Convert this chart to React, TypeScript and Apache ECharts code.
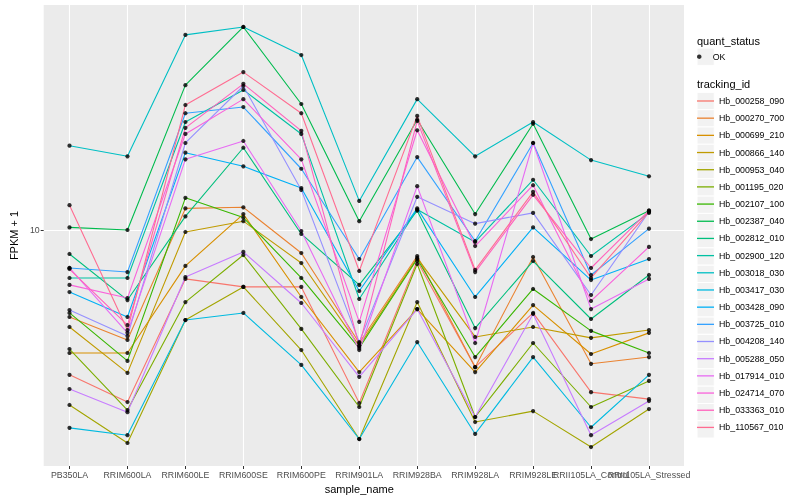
import React, { useEffect, useRef } from "react";
import * as echarts from "echarts";

const sampleNames = [
  "PB350LA", "RRIM600LA", "RRIM600LE", "RRIM600SE", "RRIM600PE", "RRIM901LA",
  "RRIM928BA", "RRIM928LA", "RRIM928LE", "RRII105LA_Control", "RRII105LA_Stressed",
];

const trackingIds = [
  "Hb_000258_090", "Hb_000270_700", "Hb_000699_210", "Hb_000866_140", "Hb_000953_040",
  "Hb_001195_020", "Hb_002107_100", "Hb_002387_040", "Hb_002812_010", "Hb_002900_120",
  "Hb_003018_030", "Hb_003417_030", "Hb_003428_090", "Hb_003725_010", "Hb_004208_140",
  "Hb_005288_050", "Hb_017914_010", "Hb_024714_070", "Hb_033363_010", "Hb_110567_010",
];

// FPKM + 1 per sample (order of sampleNames)
const hb_000258_090 = [3.29, 2.67, 6.87, 6.46, 6.46, 2.65, 7.88, 3.49, 5.29, 2.88, 2.73];
const hb_000270_700 = [5.13, 4.30, 11.8, 11.9, 8.38, 4.20, 8.19, 3.49, 8.13, 3.58, 3.77];
const hb_000699_210 = [3.89, 3.89, 7.59, 11.3, 5.98, 3.36, 5.45, 3.36, 5.62, 3.86, 4.54];
const hb_000866_140 = [4.75, 3.34, 9.85, 10.7, 7.76, 4.11, 8.07, 4.40, 4.75, 4.37, 4.64];
const hb_000953_040 = [2.61, 1.95, 5.01, 6.46, 3.98, 2.01, 5.75, 2.29, 2.49, 1.89, 2.53];
const hb_001195_020 = [4.01, 2.51, 5.75, 8.25, 4.68, 2.57, 7.70, 2.38, 4.20, 2.57, 3.14];
const hb_002107_100 = [5.29, 3.66, 12.8, 11.0, 6.92, 4.04, 8.00, 3.77, 6.36, 4.61, 3.89];
const hb_002387_040 = [10.2, 10.0, 30.4, 47.5, 26.3, 10.7, 23.3, 11.3, 22.6, 9.33, 11.6];
const hb_002812_010 = [8.32, 5.84, 11.1, 18.8, 9.70, 6.56, 11.6, 4.71, 7.88, 5.05, 7.08];
const hb_002900_120 = [6.92, 6.92, 22.9, 29.3, 20.9, 5.89, 11.7, 9.12, 14.7, 8.19, 11.4];
const hb_003018_030 = [19.1, 17.6, 44.7, 47.5, 38.3, 12.5, 27.3, 17.6, 22.9, 17.1, 15.1];
const hb_003417_030 = [2.19, 2.07, 5.01, 5.29, 3.55, 2.01, 4.23, 2.09, 3.77, 2.20, 3.29];
const hb_003428_090 = [6.21, 5.13, 18.1, 16.3, 13.8, 6.26, 11.8, 5.98, 10.2, 6.81, 8.00];
const hb_003725_010 = [7.47, 7.24, 24.5, 25.7, 16.0, 8.00, 17.5, 9.19, 19.5, 7.08, 10.1];
const hb_004208_140 = [5.41, 4.43, 19.5, 30.2, 13.6, 4.23, 12.9, 10.5, 11.4, 6.07, 11.5];
const hb_005288_050 = [2.95, 2.47, 6.97, 8.45, 5.71, 3.24, 5.45, 2.38, 5.25, 2.07, 2.69];
const hb_017914_010 = [7.47, 4.54, 17.2, 19.8, 9.92, 3.98, 14.0, 4.20, 19.5, 5.45, 6.87];
const hb_024714_070 = [6.56, 5.93, 20.9, 27.3, 17.2, 4.94, 21.5, 8.84, 14.1, 5.80, 8.78];
const hb_033363_010 = [7.41, 4.82, 21.9, 30.7, 21.4, 4.11, 23.1, 7.24, 13.1, 7.47, 11.6];
const hb_110567_010 = [12.1, 4.64, 26.1, 33.6, 24.5, 7.30, 24.0, 7.36, 13.4, 6.92, 11.5];

const fpkmSeries = [
  hb_000258_090, hb_000270_700, hb_000699_210, hb_000866_140, hb_000953_040,
  hb_001195_020, hb_002107_100, hb_002387_040, hb_002812_010, hb_002900_120,
  hb_003018_030, hb_003417_030, hb_003428_090, hb_003725_010, hb_004208_140,
  hb_005288_050, hb_017914_010, hb_024714_070, hb_033363_010, hb_110567_010,
];

const quantStatus = ["OK"];
const yTickValues = [10];
const yRange = [1.634, 56.23];

const palette = [
  "#F8766D", "#EA8331", "#D89000", "#C09B00", "#A3A500", "#7CAE00", "#39B600",
  "#00BB4E", "#00BF7D", "#00C1A3", "#00BFC4", "#00BAE0", "#00B0F6", "#35A2FF",
  "#9590FF", "#C77CFF", "#E76BF3", "#FA62DB", "#FF62BC", "#FF6C91",
];

export default function App() {
  const ref = useRef<HTMLDivElement>(null);

  useEffect(() => {
    if (!ref.current) return;
    const chart = echarts.init(ref.current, null, { renderer: "svg" });
    const font = "'Liberation Sans', Arial, Helvetica, sans-serif";

    const lineSeries = trackingIds.map((id, i) => ({
      name: id,
      type: "line",
      xAxisIndex: 1,
      yAxisIndex: 1,
      data: fpkmSeries[i],
      symbol: "none",
      showSymbol: false,
      lineStyle: { color: palette[i], width: 1.1 },
      itemStyle: { color: palette[i] },
      silent: true,
      z: 2,
    }));

    const points: [number, number][] = [];
    fpkmSeries.forEach((arr) => arr.forEach((v, j) => points.push([j, v])));

    const keyStep = 17.28;
    const keyTop = 92.4;
    const textH = 9.1;
    const keyRects = trackingIds.map((_, i) => ({
      type: "rect",
      shape: { x: 697, y: keyTop + i * keyStep, width: keyStep, height: keyStep },
      style: { fill: "#F2F2F2", stroke: "#FFFFFF", lineWidth: 1 },
      silent: true,
    }));

    chart.setOption({
      animation: false,
      textStyle: { fontFamily: font },
      grid: [
        { left: 36, right: 116, top: 5, bottom: 34, show: true, backgroundColor: "#EBEBEB", borderWidth: 0, z: -1 },
        { left: 69.5, right: 151, top: 5, bottom: 34, show: false },
      ],
      xAxis: [
        { type: "value", gridIndex: 0, show: false, min: 0, max: 1 },
        {
          type: "category",
          gridIndex: 1,
          data: sampleNames,
          boundaryGap: false,
          axisLine: { show: false },
          axisTick: { show: true, length: 3, lineStyle: { color: "#333333", width: 1 } },
          axisLabel: { interval: 0, color: "#4D4D4D", fontSize: 8.8, margin: 4, fontFamily: font, hideOverlap: false },
          splitLine: { show: true, lineStyle: { color: "#FFFFFF", width: 1.1 } },
          name: "sample_name",
          nameLocation: "middle",
          nameGap: 16,
          nameTextStyle: { color: "#000000", fontSize: 11, fontFamily: font },
        },
      ],
      yAxis: [
        {
          type: "log",
          logBase: 10,
          gridIndex: 0,
          min: yRange[0],
          max: yRange[1],
          axisLine: { show: false },
          axisTick: { show: true, length: 3, lineStyle: { color: "#333333", width: 1 }, customValues: yTickValues },
          axisLabel: {
            color: "#4D4D4D",
            fontSize: 8.8,
            margin: 4,
            fontFamily: font,
            showMinLabel: false,
            showMaxLabel: false,
            customValues: yTickValues,
            formatter: (v: number) => (Math.abs(v - 10) < 0.01 ? "10" : ""),
          },
          splitLine: { show: true, lineStyle: { color: "#FFFFFF", width: 1.1 } },
          name: "FPKM + 1",
          nameLocation: "middle",
          nameGap: 19,
          nameTextStyle: { color: "#000000", fontSize: 11, fontFamily: font },
        },
        {
          type: "log",
          logBase: 10,
          gridIndex: 1,
          min: yRange[0],
          max: yRange[1],
          show: false,
          splitLine: { show: false },
        },
      ],
      legend: [
        {
          data: quantStatus.map((q) => ({ name: q, icon: "circle", itemStyle: { color: "#000000" } })),
          orient: "vertical",
          left: 697,
          top: 56.7 - textH / 2,
          padding: 0,
          itemWidth: 17,
          itemHeight: 4.5,
          symbolKeepAspect: true,
          selectedMode: false,
          textStyle: { fontSize: 8.8, color: "#000000", fontFamily: font },
        },
        {
          data: trackingIds.map((id, i) => ({
            name: id,
            icon: "path://M0,0L17,0L17,1.3L0,1.3Z",
            itemStyle: { color: palette[i], borderWidth: 0 },
          })),
          orient: "vertical",
          left: 697,
          top: keyTop + keyStep / 2 - textH / 2,
          padding: 0,
          itemWidth: 17,
          itemHeight: keyStep,
          itemGap: keyStep - textH,
          symbolKeepAspect: true,
          selectedMode: false,
          textStyle: { fontSize: 8.8, color: "#000000", fontFamily: font },
        },
      ],
      graphic: [
        {
          type: "text",
          x: 697,
          y: 40.7,
          style: { text: "quant_status", fontSize: 11, fontFamily: font, fill: "#000000", verticalAlign: "middle" },
          silent: true,
        },
        {
          type: "rect",
          shape: { x: 697, y: 48.1, width: keyStep, height: keyStep },
          style: { fill: "#F2F2F2", stroke: "#FFFFFF", lineWidth: 1 },
          silent: true,
        },
        {
          type: "text",
          x: 697,
          y: 84.3,
          style: { text: "tracking_id", fontSize: 11, fontFamily: font, fill: "#000000", verticalAlign: "middle" },
          silent: true,
        },
        ...keyRects,
      ],
      series: [
        ...lineSeries,
        {
          name: "OK",
          type: "scatter",
          xAxisIndex: 1,
          yAxisIndex: 1,
          data: points,
          symbol: "circle",
          symbolSize: 4.2,
          itemStyle: { color: "#000000" },
          silent: true,
          z: 3,
        },
      ],
    });

    return () => chart.dispose();
  }, []);

  return <div ref={ref} style={{ position: "fixed", left: 0, top: 0, width: 800, height: 500 }} />;
}
